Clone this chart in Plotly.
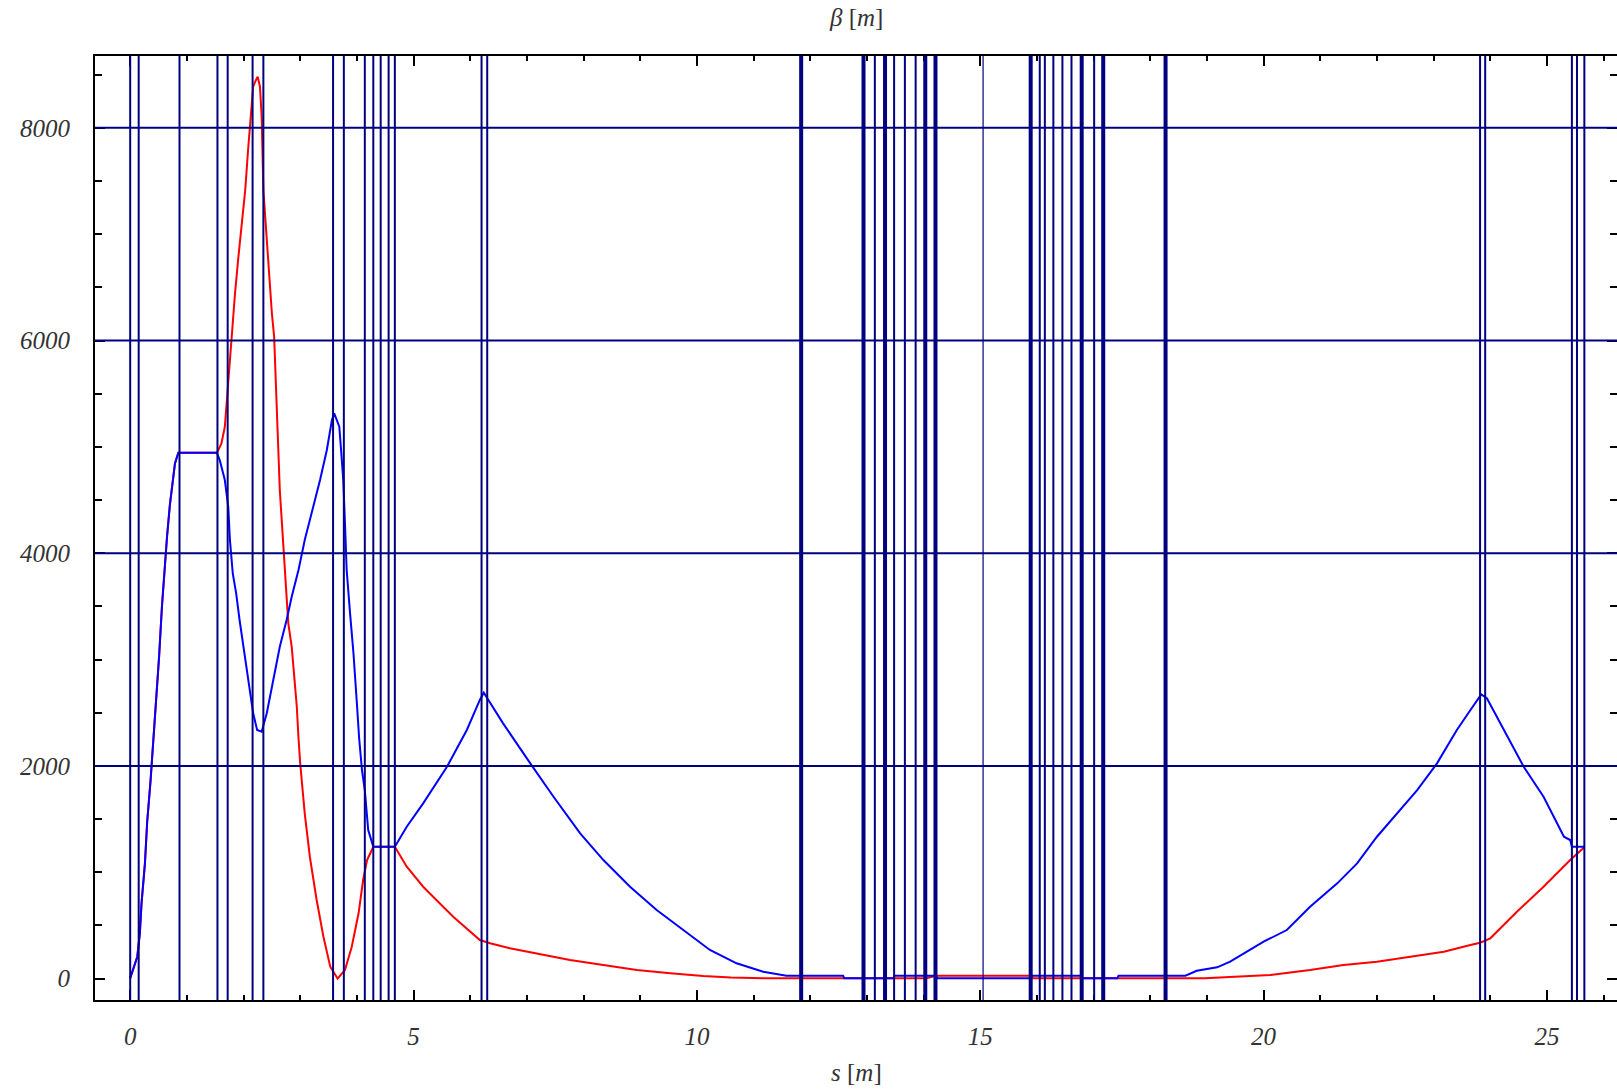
import plotly.graph_objects as go

# ---- data ----
blue_s = [0.00, 0.06, 0.125, 0.17, 0.20, 0.26, 0.30, 0.36, 0.41, 0.47, 0.51, 0.56, 0.61, 0.65,
          0.70, 0.75, 0.79, 0.85, 1.53, 1.58, 1.67, 1.73, 1.76, 1.81, 1.87, 1.93, 1.99, 2.06, 2.11,
          2.17, 2.24, 2.32, 2.41, 2.53, 2.64, 2.76, 2.85, 2.97, 3.08, 3.23, 3.35, 3.47, 3.56, 3.60,
          3.69, 3.73, 3.76, 3.79, 3.82, 3.88, 3.94, 4.00, 4.04, 4.09, 4.14, 4.20, 4.26, 4.29, 4.67,
          4.88, 5.17, 5.59, 5.94, 6.17, 6.24, 6.58, 7.06, 7.47, 7.94, 8.35, 8.82, 9.29, 9.76, 10.23,
          10.70, 11.17, 11.58, 12.58, 12.60, 13.47, 13.49, 14.22, 14.24, 15.89, 15.91, 16.77, 16.79,
          17.42, 17.44, 18.62, 18.82, 19.18, 19.41, 19.65, 20.00, 20.41, 20.82, 21.30, 21.65, 22.00,
          22.36, 22.71, 23.06, 23.41, 23.65, 23.84, 23.94, 24.24, 24.59, 24.94, 25.30, 25.41, 25.44,
          25.66]
blue_beta = [3, 97, 206, 426, 708, 1084, 1475, 1867, 2244, 2651, 3027, 3497, 3920, 4155,
             4453, 4704, 4845, 4945, 4945, 4876, 4688, 4437, 4124, 3811, 3623, 3372, 3153, 2933, 2714,
             2495, 2338, 2322, 2495, 2808, 3121, 3372, 3591, 3842, 4124, 4437, 4688, 4970, 5252, 5315,
             5189, 4907, 4688, 4281, 3842, 3435, 3059, 2589, 2260, 1961, 1773, 1397, 1288, 1240, 1240,
             1428, 1648, 1992, 2338, 2620, 2688, 2400, 2024, 1710, 1366, 1115, 864, 645, 457, 269,
             144, 65, 28, 28, 4, 4, 28, 28, 4, 4, 28, 28, 4,
             4, 28, 28, 74, 106, 159, 238, 347, 457, 676, 896, 1084, 1334,
             1554, 1773, 2024, 2338, 2526, 2672, 2636, 2338, 1992, 1710, 1334, 1303, 1240,
             1240]

red_s = [0.00, 0.06, 0.125, 0.17, 0.20, 0.26, 0.30, 0.36, 0.41, 0.47, 0.51, 0.56, 0.61, 0.65,
         0.70, 0.75, 0.79, 0.85, 1.53, 1.555, 1.61, 1.67, 1.71, 1.74, 1.79, 1.85, 1.91, 1.97, 2.03,
         2.08, 2.13, 2.17, 2.22, 2.25, 2.29, 2.32, 2.35, 2.40, 2.45, 2.50, 2.54, 2.57, 2.60, 2.64,
         2.70, 2.75, 2.79, 2.85, 2.90, 2.94, 2.97, 3.00, 3.08, 3.17, 3.29, 3.41, 3.53, 3.66, 3.79,
         3.91, 4.03, 4.11, 4.18, 4.26, 4.29, 4.67, 4.88, 5.17, 5.45, 5.70, 6.17, 6.35, 6.70, 7.17,
         7.76, 8.35, 8.94, 9.53, 10.11, 10.60, 11.17, 14.05, 14.24, 15.89, 15.91, 18.96, 20.12,
         20.82, 21.41, 22.00, 22.59, 23.18, 23.65, 23.82, 24.00, 24.47, 24.94, 25.41, 25.66]
red_beta = [3, 97, 206, 426, 708, 1084, 1475, 1867, 2244, 2651, 3027, 3497, 3920, 4155,
            4453, 4704, 4845, 4945, 4945, 4970, 5033, 5189, 5472, 5660, 6036, 6444, 6788, 7133, 7415,
            7791, 8104, 8386, 8450, 8481, 8386, 8104, 7415, 7008, 6600, 6256, 6036, 5629, 5127, 4594,
            4093, 3717, 3341, 3121, 2839, 2557, 2260, 2024, 1554, 1146, 739, 394, 112, 0, 81,
            300, 614, 927, 1115, 1216, 1240, 1240, 1052, 864, 720, 582, 363, 332, 285, 238,
            175, 128, 81, 50, 24, 10, 4, 4, 28, 28, 4, 4, 34,
            81, 128, 159, 206, 253, 316, 338, 379, 629, 864, 1115, 1235]

# lattice element boundaries (s in m)
marker_s = [0.00, 0.15, 0.87, 1.54, 1.72, 2.16, 2.35, 3.58, 3.77, 4.14, 4.29, 4.42, 4.56, 4.67,
            6.20, 6.30, 13.14, 13.48, 13.67, 13.86, 16.05, 16.14, 16.29, 16.45, 16.61, 17.01,
            23.82, 23.91, 25.44, 25.53, 25.66]
thick_marker_s = [11.84, 12.94, 13.32, 14.03, 14.21, 15.89, 16.79, 17.17, 18.27]
hair_marker_s = [15.05]

x_ticks = [0, 5, 10, 15, 20, 25]
y_ticks = [0, 2000, 4000, 6000, 8000]
grid_beta = [2000, 4000, 6000, 8000]

NAVY = "#000080"
label_font = dict(family="Liberation Serif", size=25, color="#333333", style="italic")

fig = go.Figure()
fig.add_trace(go.Scatter(x=red_s, y=red_beta, mode="lines",
                         line=dict(color="#FF0000", width=2), showlegend=False))
fig.add_trace(go.Scatter(x=blue_s, y=blue_beta, mode="lines",
                         line=dict(color="#0000FF", width=2), showlegend=False))

shapes = []
for g in grid_beta:
    shapes.append(dict(type="line", xref="paper", yref="y", x0=0, x1=1, y0=g, y1=g,
                       line=dict(color=NAVY, width=2), layer="above"))
for s in marker_s:
    shapes.append(dict(type="line", xref="x", yref="paper", x0=s, x1=s, y0=0, y1=1,
                       line=dict(color=NAVY, width=2), layer="above"))
for s in thick_marker_s:
    shapes.append(dict(type="line", xref="x", yref="paper", x0=s, x1=s, y0=0, y1=1,
                       line=dict(color=NAVY, width=4), layer="above"))
for s in hair_marker_s:
    shapes.append(dict(type="line", xref="x", yref="paper", x0=s, x1=s, y0=0, y1=1,
                       line=dict(color=NAVY, width=1.2), layer="above"))

fig.update_layout(
    width=1617, height=1089,
    margin=dict(l=95, r=0, t=56, b=89, autoexpand=False),
    paper_bgcolor="white", plot_bgcolor="white",
    shapes=shapes,
    xaxis=dict(range=[-0.621, 26.236], tickmode="array", tickvals=x_ticks,
               ticktext=[str(v) for v in x_ticks], automargin=False,
               ticks="inside", ticklen=10, tickwidth=1.5, tickcolor="black",
               showline=True, linecolor="black", linewidth=2, mirror="ticks",
               showgrid=False, zeroline=False, tickfont=label_font,
               ticklabelstandoff=13,
               minor=dict(dtick=1, tick0=0, ticks="inside", ticklen=5, tickwidth=1.5,
                          tickcolor="black", showgrid=False)),
    yaxis=dict(range=[-201, 8675], tickmode="array", tickvals=y_ticks,
               ticktext=[str(v) for v in y_ticks], automargin=False,
               ticks="inside", ticklen=10, tickwidth=1.5, tickcolor="black",
               showline=True, linecolor="black", linewidth=2, mirror="ticks",
               showgrid=False, zeroline=False, tickfont=label_font,
               ticklabelstandoff=18,
               minor=dict(dtick=500, tick0=0, ticks="inside", ticklen=7, tickwidth=1.5,
                          tickcolor="black", showgrid=False)),
    annotations=[
        dict(text="<i>β</i> [<i>m</i>]", xref="paper", yref="paper", x=0.5, y=1.0405,
             xanchor="center", yanchor="middle", showarrow=False,
             font=dict(family="Liberation Serif", size=25, color="#333333")),
        dict(text="<i>s</i> [<i>m</i>]", xref="paper", yref="paper", x=0.5, y=-0.0768,
             xanchor="center", yanchor="middle", showarrow=False,
             font=dict(family="Liberation Serif", size=25, color="#333333")),
    ],
)

fig.write_html("out.html", config={"displayModeBar": False},
               post_script="document.body.style.margin='0';document.body.style.overflow='hidden';")
